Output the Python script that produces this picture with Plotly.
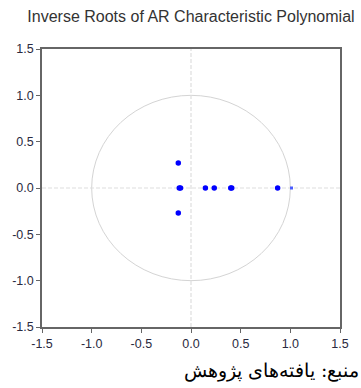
import plotly.graph_objects as go

# Inverse AR roots (real and imaginary parts)
root_re = [-0.128, -0.118, -0.105, -0.128, 0.145, 0.234, 0.400, 0.410, 0.872]
root_im = [0.270, 0.0, 0.0, -0.270, 0.0, 0.0, 0.0, 0.0, 0.0]
# root lying on the unit circle
unit_re = [1.012]
unit_im = [0.0]

tick_vals = [-1.5, -1.0, -0.5, 0.0, 0.5, 1.0, 1.5]
tick_text = ["-1.5", "-1.0", "-0.5", "0.0", "0.5", "1.0", "1.5"]

title_text = "Inverse Roots of AR Characteristic Polynomial"
source_text = "منبع: یافته‌های پژوهش"

fig = go.Figure()
fig.add_trace(go.Scatter(x=root_re, y=root_im, mode="markers",
                         marker=dict(color="#0000ff", size=5.5), showlegend=False))
fig.add_trace(go.Scatter(x=unit_re, y=unit_im, mode="markers",
                         marker=dict(color="#4a5cff", size=3, symbol="square"), showlegend=False))

# unit circle and dashed zero lines
fig.add_shape(type="circle", xref="x", yref="y", x0=-1, y0=-1, x1=1, y1=1,
              line=dict(color="#d4d4d4", width=1), layer="below")
fig.add_shape(type="line", xref="x", yref="y", x0=-1.5, x1=1.5, y0=0, y1=0,
              line=dict(color="#dedede", width=1.2, dash="4px,2px"), layer="below")
fig.add_shape(type="line", xref="x", yref="y", x0=0, x1=0, y0=-1.5, y1=1.5,
              line=dict(color="#dedede", width=1.2, dash="4px,2px"), layer="below")

axis_common = dict(range=[-1.5, 1.5], tickvals=tick_vals, ticktext=tick_text,
                   showgrid=False, zeroline=False, showline=True, mirror=True,
                   linecolor="#666666", linewidth=1.5, ticks="outside",
                   ticklen=4, tickcolor="#666666",
                   tickfont=dict(family="Arial, Liberation Sans", size=12.5, color="#2a2a40"))

fig.update_layout(
    width=361, height=388,
    margin=dict(l=40, r=17, t=49, b=61),
    paper_bgcolor="white", plot_bgcolor="white",
    title=dict(text=title_text, x=0.529, xanchor="center", y=0.958, yanchor="middle",
               font=dict(family="Arial, Liberation Sans", size=16, color="#333333")),
    xaxis=axis_common,
    yaxis=axis_common,
)

fig.add_annotation(text=source_text, xref="paper", yref="paper", x=1.075, y=-0.155,
                   xanchor="right", yanchor="middle", showarrow=False,
                   font=dict(family="DejaVu Serif, Times New Roman, serif", size=19, color="#000000"))

fig.write_html("out.html")
